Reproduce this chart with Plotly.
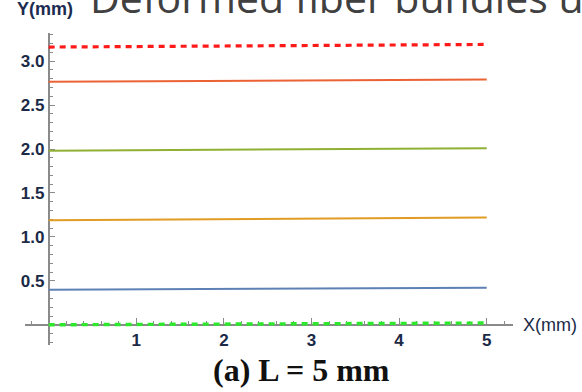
import numpy as np
import plotly.graph_objects as go

# ---- data ----
x_vals = [0, 1, 2, 3, 4, 5]
top_dashed = [3.160, 3.166, 3.172, 3.178, 3.184, 3.190]
curve_red = [2.765, 2.770, 2.775, 2.780, 2.785, 2.790]
curve_green = [1.980, 1.986, 1.992, 1.998, 2.004, 2.010]
curve_orange = [1.190, 1.196, 1.202, 1.208, 1.214, 1.220]
curve_blue = [0.398, 0.402, 0.406, 0.411, 0.416, 0.421]
bottom_dashed = [0.000, 0.004, 0.008, 0.012, 0.016, 0.020]

y_ticks = [0, 0.5, 1.0, 1.5, 2.0, 2.5, 3.0]
y_ticktext = ["", "0.5", "1.0", "1.5", "2.0", "2.5", "3.0"]
x_ticks = [0, 1, 2, 3, 4, 5]
x_ticktext = ["", "1", "2", "3", "4", "5"]

x_range = [-0.27, 5.3]
y_range = [-0.23, 3.32]

fig = go.Figure()
series = [
    (top_dashed, "#ff1a1a", 3.2, "6px,5px"),
    (curve_red, "#eb6235", 2, "solid"),
    (curve_green, "#8fb032", 2, "solid"),
    (curve_orange, "#e19c24", 2, "solid"),
    (curve_blue, "#5e81b5", 2, "solid"),
    (bottom_dashed, "#2ee82e", 3.4, "6px,5px"),
]
for ys, col, w, d in series:
    fig.add_trace(go.Scatter(x=x_vals, y=ys, mode="lines",
                             line=dict(color=col, width=w, dash=d),
                             showlegend=False, hoverinfo="skip", cliponaxis=False))

tick_font = dict(family="Arial, Liberation Sans", size=17, color="#1b2a47", weight="bold")
axis_col = "#8a8a8a"

fig.update_layout(
    width=582, height=392,
    margin=dict(l=25, r=69, t=33, b=47),
    paper_bgcolor="white", plot_bgcolor="white",
    xaxis=dict(range=x_range, showgrid=False, zeroline=False, layer="below traces",
               showline=True, linecolor=axis_col, linewidth=1.5,
               anchor="free", position=(0 - y_range[0]) / (y_range[1] - y_range[0]),
               tickmode="array", tickvals=x_ticks, ticktext=x_ticktext,
               ticks="inside", ticklen=6, tickcolor=axis_col, tickwidth=1,
               tickfont=tick_font,
               minor=dict(tickmode="linear", tick0=0, dtick=0.2, ticks="inside",
                          ticklen=3, tickcolor=axis_col, tickwidth=1)),
    yaxis=dict(range=y_range, showgrid=False, zeroline=False, layer="below traces",
               showline=True, linecolor=axis_col, linewidth=1.5,
               anchor="free", position=(0 - x_range[0]) / (x_range[1] - x_range[0]),
               tickmode="array", tickvals=y_ticks, ticktext=y_ticktext,
               ticks="inside", ticklen=6, tickcolor=axis_col, tickwidth=1,
               tickfont=tick_font,
               minor=dict(tickmode="linear", tick0=0, dtick=0.1, ticks="inside",
                          ticklen=4, tickcolor=axis_col, tickwidth=1)),
)

fig.add_annotation(text="Y(mm)", xref="paper", yref="paper", x=-25/488, y=1+33/312,
                   xanchor="left", yanchor="top", showarrow=False, yshift=3, xshift=15,
                   font=dict(family="Arial, Liberation Sans", size=18, color="#1c2b4f", weight="bold"))
fig.add_annotation(text="Deformed fiber bundles u", xref="paper", yref="paper",
                   x=(88 - 25) / 488, y=1 + 33 / 312, xanchor="left", yanchor="bottom",
                   yshift=-27, showarrow=False,
                   font=dict(family="Open Sans", size=41, color="#404040"))
fig.add_annotation(text="X(mm)", xref="paper", yref="paper",
                   x=1 + 8 / 488, y=(0 - y_range[0]) / (y_range[1] - y_range[0]),
                   xanchor="left", yanchor="middle", showarrow=False,
                   font=dict(family="Arial, Liberation Sans", size=18, color="#1b2a47"))
fig.add_annotation(text="(a) L = 5 mm", xref="paper", yref="paper",
                   x=(301 - 25) / 488, y=-47 / 312, xanchor="center", yanchor="bottom",
                   yshift=2, showarrow=False,
                   font=dict(family="Liberation Serif, Times New Roman", size=32, color="#111111", weight="bold"))

fig.write_html("out.html")
